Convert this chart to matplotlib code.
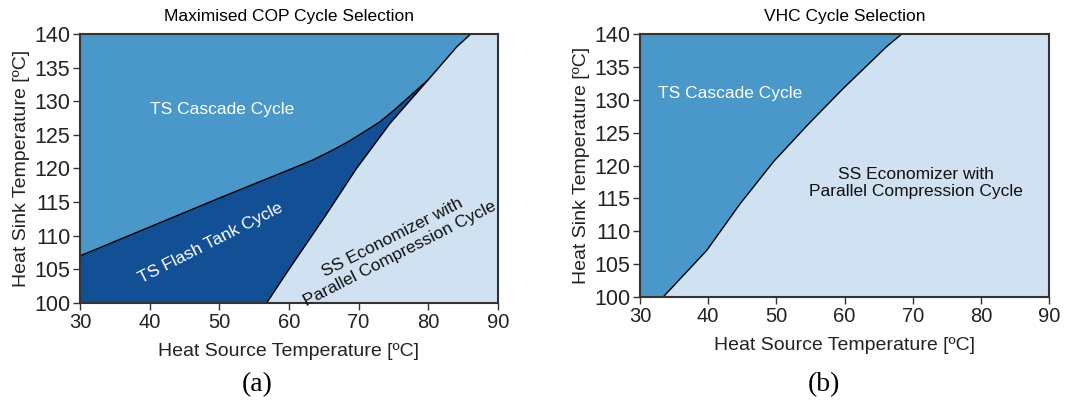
import numpy as np
import matplotlib.pyplot as plt

plt.rcParams['font.family'] = ['Liberation Sans', 'DejaVu Sans']

# (a) boundaries
cop_upper_x = [30, 40, 50, 60, 63.5, 66.4, 68.7, 70.7, 73, 75, 80, 84.1, 86.1]
cop_upper_y = [107, 111.3, 115.6, 119.8, 121.3, 122.8, 124.1, 125.4, 126.9, 128.6, 133.2, 138.1, 140]
cop_lower_x = [56.8, 60, 65, 69.7, 74.5, 80]
cop_lower_y = [100, 105, 112.6, 120, 126.7, 133.2]

# (b) boundary
vhc_x = [33.4, 39.8, 44.7, 49.6, 54.8, 59.8, 66.2, 68.4]
vhc_y = [100, 107.1, 114.2, 120.6, 126.4, 131.7, 138.1, 140]

c_light = '#d0e1f2'
c_mid = '#4a98c9'
c_dark = '#124f94'
c_ax = '#333333'
c_txt = '#222222'

fig = plt.figure(figsize=(10.82, 4.0), dpi=100)
ax1 = fig.add_axes([0.0739, 0.2425, 0.3863, 0.6725])
ax2 = fig.add_axes([0.5915, 0.2575, 0.378, 0.6575])

# --- (a) ---
ax1.set_facecolor(c_light)
ux, uy = np.array(cop_upper_x), np.array(cop_upper_y)
lx, ly = np.array(cop_lower_x), np.array(cop_lower_y)
ax1.fill(np.r_[30, ux, 30], np.r_[140, uy, 140], color=c_mid, lw=0)
m = ux <= 80
ax1.fill(np.r_[30, ux[m], lx[::-1]], np.r_[100, uy[m], ly[::-1]], color=c_dark, lw=0)
ax1.plot(ux, uy, color='black', lw=1)
ax1.plot(lx, ly, color='black', lw=1)
ax1.text(50.4, 128.7, 'TS Cascade Cycle', color='white', fontsize=12.5,
         ha='center', va='center')
ax1.text(48.7, 108.9, 'TS Flash Tank Cycle', color='white', fontsize=12.5,
         ha='center', va='center', rotation=27)
ax1.text(75.4, 108.5, 'SS Economizer with\nParallel Compression Cycle',
         color='#111111', fontsize=12.5, ha='center', va='center', rotation=27,
         linespacing=1.2)
ax1.set_title('Maximised COP Cycle Selection', fontsize=12.5, pad=9)

# --- (b) ---
ax2.set_facecolor(c_light)
vx, vy = np.array(vhc_x), np.array(vhc_y)
ax2.fill(np.r_[30, vx, 30], np.r_[100, vy, 140], color=c_mid, lw=0)
ax2.plot(vx, vy, color='black', lw=1)
ax2.text(43.2, 130.9, 'TS Cascade Cycle', color='white', fontsize=12.5,
         ha='center', va='center')
ax2.text(70.5, 117.3, 'SS Economizer with\nParallel Compression Cycle',
         color='#111111', fontsize=12.5, ha='center', va='center',
         linespacing=1.2)
ax2.set_title('VHC Cycle Selection', fontsize=12.5, pad=9)

for ax in (ax1, ax2):
    ax.set_xlim(30, 90)
    ax.set_ylim(100, 140)
    ax.set_xticks(range(30, 91, 10))
    ax.set_yticks(range(100, 141, 5))
    ax.tick_params(length=5, width=1, color=c_ax, labelcolor=c_txt, pad=2)
    ax.tick_params(axis='x', labelsize=14.5)
    ax.tick_params(axis='y', labelsize=15.5)
    for s in ax.spines.values():
        s.set_color(c_ax)
        s.set_linewidth(1.5)
    ax.set_xlabel('Heat Source Temperature [ºC]', fontsize=14, color=c_txt,
                  labelpad=8)
    ax.set_ylabel('Heat Sink Temperature [ºC]', fontsize=14, color=c_txt,
                  labelpad=3)

fig.text(257 / 1082, 0.0375, '(a)', family='Liberation Serif', fontsize=20,
         ha='center', va='center')
fig.text(824 / 1082, 0.0375, '(b)', family='Liberation Serif', fontsize=20,
         ha='center', va='center')

fig.savefig('out.png', dpi=100, facecolor='white')
